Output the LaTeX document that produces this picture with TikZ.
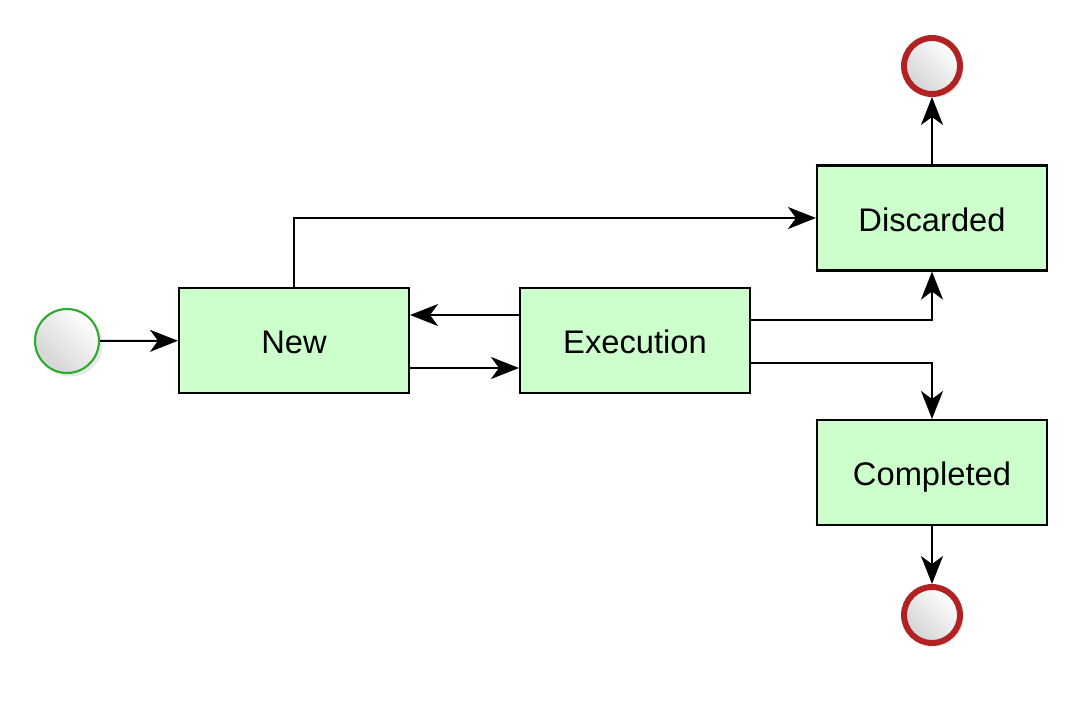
\documentclass[tikz,border=0pt]{standalone}
\usepackage{fontspec}
\setmainfont{Liberation Sans}
\usetikzlibrary{arrows.meta,shadows}
\definecolor{st_green}{RGB}{204, 255, 204}
\definecolor{start_line}{RGB}{44, 170, 44}
\definecolor{end_line}{RGB}{178, 34, 34}
\tikzset{
  state/.style={rectangle,fill=st_green,draw=black,line width=1.2pt,
    minimum width=4.6cm,minimum height=2.1cm,inner sep=0pt,
    text height=14.8pt,text depth=0pt,
    font=\fontsize{18.6}{22}\selectfont},
  ball/.style={circle,shading=axis,top color=white,bottom color=black!17,
    shading angle=-45,drop shadow={opacity=0.18,shadow xshift=2pt,shadow yshift=-2pt},
    inner sep=0pt},
  startn/.style={ball,draw=start_line,line width=1.2pt,minimum size=1.28cm},
  endn/.style={ball,draw=end_line,line width=3.4pt,minimum size=1.12cm},
  flow/.style={draw=black,line width=1.2pt,
    -{Stealth[length=0.56cm,width=0.44cm,inset=0.16cm]}},
}

\begin{document}
\begin{tikzpicture}[x=0.02cm, y=-0.02cm]
    \useasboundingbox (0,0) rectangle (1082,700);
            \node [style=startn] (start) at (67, 341) {};
            \node [style=state] (new) at (294, 340.5) {New};
            \node [style=state] (exec) at (635, 340.5) {Execution};
            \node [style=state] (disc) at (932, 218) {Discarded};
            \node [style=state] (comp) at (932, 472.5) {Completed};
            \node [style=endn] (endtop) at (932, 66) {};
            \node [style=endn] (endbot) at (932, 615) {};
            \draw [style=flow] (start) to (new);
            \draw [style=flow] (new) |- (disc);
            \draw [style=flow] ([yshift=0.51cm]exec.west) to ([yshift=0.51cm]new.east);
            \draw [style=flow] ([yshift=-0.55cm]new.east) to ([yshift=-0.55cm]exec.west);
            \draw [style=flow] ([yshift=0.41cm]exec.east) -| (disc);
            \draw [style=flow] ([yshift=-0.45cm]exec.east) -| (comp);
            \draw [style=flow] (disc) to (endtop);
            \draw [style=flow] (comp) to (endbot);
    \end{tikzpicture}
\end{document}
